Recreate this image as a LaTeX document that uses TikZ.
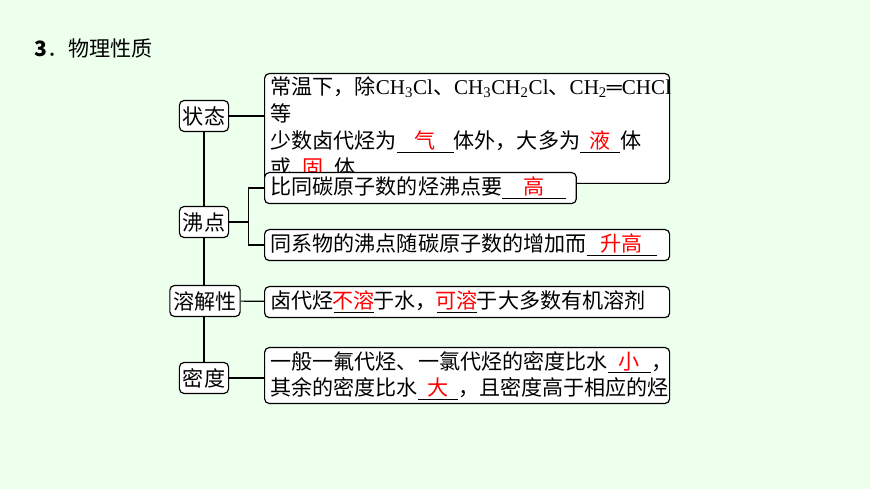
\documentclass[tikz,border=0pt]{standalone}
\usepackage{fontspec}
\setmainfont{Liberation Serif}
\newfontfamily\cjk{Noto Sans CJK SC}
\usetikzlibrary{positioning}
\providecommand\fillin[2]{\underline{\makebox[#2]{\color{red}#1}}}
\providecommand\chem[1]{{\rmfamily #1}}
\tikzset{
    term/.style = {draw, rounded corners = 4pt, line width = 1pt, fill = white,
        inner sep = 3pt, minimum height = 0.93cm, font = \cjk\fontsize{18}{22}\selectfont},
    fact/.style = {term, anchor = north west, align = left, inner xsep = 5pt,
        font = \cjk\fontsize{18}{23}\selectfont},
}
\begin{document}
\begin{tikzpicture}[x = 0.03cm, y = -0.03cm, line width = 1pt]
    \fill[green!7] (0,0) rectangle (870,489);
    \useasboundingbox (0,0) rectangle (870,489);

    \node (title) [anchor = west, font = \cjk\fontsize{18}{22}\selectfont] at (30,48) {\textbf{3}．物理性质};

    % the vertical stem
    \coordinate (top) at (204,116);
    \coordinate (bottom) at (204,378);
    \draw (top) -- (bottom);

    \node (state) [term] at (204,116) {状态};
    \node (boil) [term] at (204,222) {沸点};
    \node (solve) [term] at (205,301) {溶解性};
    \node (dens) [term] at (204,378) {密度};

    \node (s1) [fact, text width = 11.8cm] at (264,73)
        {常温下，除\chem{CH\textsubscript{3}Cl}、\chem{CH\textsubscript{3}CH\textsubscript{2}Cl}、\chem{CH\textsubscript{2}═CHCl} 等\\
         少数卤代烃为\fillin{气}{1.7cm}体外，大多为\fillin{液}{1.2cm}体\\
         或\fillin{固}{1.3cm}体};
    \node (b1) [fact, text width = 9.0cm] at (264,172) {比同碳原子数的烃沸点要\fillin{高}{1.9cm}};
    \node (b2) [fact, text width = 11.8cm] at (264,229) {同系物的沸点随碳原子数的增加而\fillin{升高}{2.1cm}};
    \node (r1) [fact, text width = 11.8cm] at (264,286) {卤代烃\fillin{不溶}{1.2cm}于水，\fillin{可溶}{1.2cm}于大多数有机溶剂};
    \node (d1) [fact, text width = 11.8cm] at (264,347)
        {一般一氟代烃、一氯代烃的密度比水\fillin{小}{1.3cm}，\\
         其余的密度比水\fillin{大}{1.2cm}，且密度高于相应的烃};

    \draw (state) -- (s1.west |- state);
    \draw (boil.east) -- ++(19,0) coordinate (fork);
    \draw (b1.west) -| (fork) |- (b2.west);
    \draw (solve) -- (r1);
    \draw (dens) -- (d1.west |- dens);
\end{tikzpicture}
\end{document}
